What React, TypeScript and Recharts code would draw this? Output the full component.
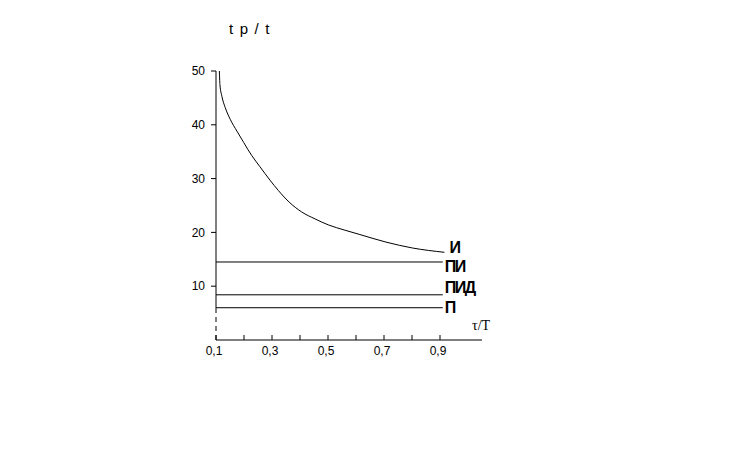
import React from "react"
import { LineChart, Line, XAxis, YAxis, ReferenceLine } from "recharts"

// curve "И": τ/T vs tp/t
const curveX = [0.112, 0.114, 0.121, 0.133, 0.151, 0.175, 0.199, 0.2275, 0.257, 0.293, 0.3225, 0.364, 0.406, 0.454, 0.501, 0.561, 0.614, 0.707, 0.802, 0.916]
const curveY = [50.0, 47.5, 45.3, 43.2, 41.0, 38.8, 36.7, 34.3, 32.2, 29.7, 27.8, 25.5, 23.8, 22.5, 21.4, 20.4, 19.6, 18.2, 17.1, 16.3]

// constant regulators
const flatNames = ["ПИ", "ПИД", "П"]
const flatValues = [14.5, 8.4, 6.0]
const flatStart = 0.1
const flatEnd = 0.91

const xTicks = [0.1, 0.2, 0.3, 0.4, 0.5, 0.6, 0.7, 0.8, 0.9]
const xLabeled = [0.1, 0.3, 0.5, 0.7, 0.9]
const yTicks = [10, 20, 30, 40, 50]
const xDomain = [0.1, 1.05]
const yDomain = [0, 50]
const axisDashBelow = 5.8 // y-axis is dashed below this value

const curveData = curveX.map((x, i) => ({ x, y: curveY[i] }))
const flatData = flatValues.map((v) => [
  { x: flatStart, y: v },
  { x: flatEnd, y: v },
])

// label offsets for the end of each line
const labelOffsets: Record<string, [number, number]> = {
  "И": [5, 1],
  "ПИ": [2, 10],
  "ПИД": [2, -2],
  "П": [2, 5],
}

const sans = "'Liberation Sans', Arial, sans-serif"

function endLabel(name: string, count: number) {
  return (props: any) => {
    const { x, y, index } = props
    if (index !== count - 1) return null
    const [dx, dy] = labelOffsets[name]
    return (
      <text key={name} x={x + dx} y={y + dy} fontSize={16} fontWeight="bold" fontFamily={sans} fill="#000" letterSpacing={-1.5}>
        {name}
      </text>
    )
  }
}

function XTick(props: any) {
  const { x, y, payload } = props
  const v = payload.value
  const labeled = xLabeled.some((t) => Math.abs(t - v) < 1e-9)
  return (
    <g>
      <line x1={x} y1={y} x2={x} y2={y - 5} stroke="#000" />
      {labeled && (
        <text x={x - 2} y={y + 15} textAnchor="middle" fontSize={12} fontFamily={sans} fill="#000">
          {v.toFixed(1).replace(".", ",")}
        </text>
      )}
    </g>
  )
}

export default function App() {
  return (
    <div style={{ position: "absolute", left: 0, top: 0, width: 735, height: 475, background: "#fff" }}>
      <LineChart width={735} height={475} margin={{ top: 71, right: 253, bottom: 105, left: 176 }}>
        <XAxis
          type="number"
          dataKey="x"
          domain={xDomain}
          ticks={xTicks}
          allowDataOverflow
          height={30}
          tickSize={0}
          tickMargin={0}
          tickLine={false}
          tick={<XTick />}
          axisLine={{ stroke: "#000" }}
        />
        <YAxis
          type="number"
          dataKey="y"
          domain={yDomain}
          ticks={yTicks}
          width={40}
          tickSize={5}
          tickMargin={6}
          axisLine={false}
          tickLine={{ stroke: "#000" }}
          tick={{ fill: "#000", fontSize: 12, fontFamily: sans }}
        />
        <ReferenceLine
          segment={[{ x: xDomain[0], y: axisDashBelow }, { x: xDomain[0], y: yDomain[1] }]}
          stroke="#000"
        />
        <ReferenceLine
          segment={[{ x: xDomain[0], y: yDomain[0] }, { x: xDomain[0], y: axisDashBelow }]}
          stroke="#000"
          strokeDasharray="5 4"
        />
        <Line
          data={curveData}
          dataKey="y"
          type="monotone"
          stroke="#000"
          strokeWidth={1}
          dot={false}
          isAnimationActive={false}
          label={endLabel("И", curveData.length)}
        />
        {flatData.map((d, i) => (
          <Line
            key={flatNames[i]}
            data={d}
            dataKey="y"
            type="linear"
            stroke="#000"
            strokeWidth={1}
            dot={false}
            isAnimationActive={false}
            label={endLabel(flatNames[i], d.length)}
          />
        ))}
      </LineChart>
      <svg width={735} height={475} style={{ position: "absolute", left: 0, top: 0, pointerEvents: "none" }}>
        <text x={229} y={33.5} fontSize={15} fontFamily={sans} letterSpacing={6.5} fill="#000">
          tр/t
        </text>
        <text x={472} y={329.5} fontSize={14} fontFamily="'Liberation Serif', 'Times New Roman', serif" fill="#000">
          τ/T
        </text>
      </svg>
    </div>
  )
}
